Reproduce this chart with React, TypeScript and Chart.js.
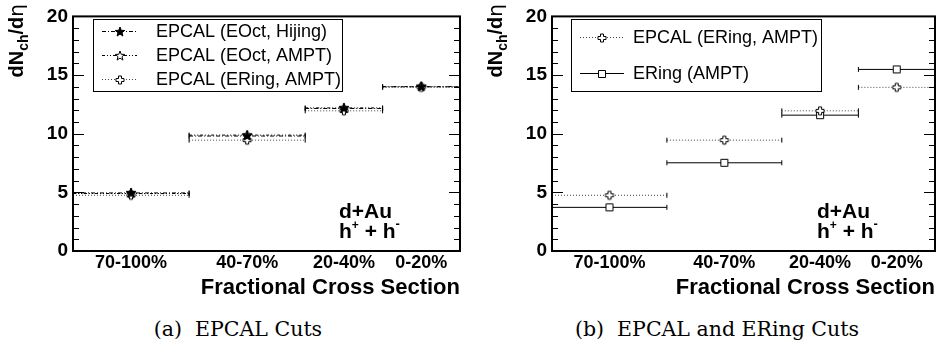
import React, { useEffect, useRef } from 'react';
import { Chart, registerables } from 'chart.js';

Chart.register(...registerables);

// ---------------- data ----------------
const binLabels = ['70-100%', '40-70%', '20-40%', '0-20%'];
const binLow = [70, 40, 20, 0];
const binHigh = [100, 70, 40, 20];
const binCenter = [85, 55, 30, 10];

const epcalEOctHijing = [4.95, 9.8, 12.15, 14.0];
const epcalEOctAmpt = [4.9, 9.88, 12.2, 14.02];
const epcalERingAmpt = [4.75, 9.45, 11.95, 13.95];
const eRingAmpt = [3.72, 7.52, 11.58, 15.48];

const yMin = 0;
const yMax = 20;
const yMajorStep = 5;
const yMinorStep = 1;

const xTitle = 'Fractional Cross Section';
const captionA = '(a)\u00a0\u00a0EPCAL Cuts';
const captionB = '(b)\u00a0\u00a0EPCAL and ERing Cuts';

const SANS = "'Liberation Sans', Arial, Helvetica, sans-serif";

type MarkerKind = 'starFilled' | 'starOpen' | 'crossOpen' | 'squareOpen';
type SeriesDef = { label: string; values: number[]; dash: number[]; color: string; marker: MarkerKind };

const panelASeries: SeriesDef[] = [
  { label: 'EPCAL (EOct, Hijing)', values: epcalEOctHijing, dash: [4, 2, 1, 2], color: '#000', marker: 'starFilled' },
  { label: 'EPCAL (EOct, AMPT)', values: epcalEOctAmpt, dash: [3, 2, 1, 2, 1, 2], color: '#000', marker: 'starOpen' },
  { label: 'EPCAL (ERing, AMPT)', values: epcalERingAmpt, dash: [1, 2], color: '#444', marker: 'crossOpen' },
];
const panelBSeries: SeriesDef[] = [
  { label: 'EPCAL (ERing, AMPT)', values: epcalERingAmpt, dash: [1, 2], color: '#444', marker: 'crossOpen' },
  { label: 'ERing (AMPT)', values: eRingAmpt, dash: [], color: '#000', marker: 'squareOpen' },
];

// ---------------- markers ----------------
function makeMarker(kind: MarkerKind): HTMLCanvasElement {
  const s = 14;
  const c = document.createElement('canvas');
  c.width = s;
  c.height = s;
  const ctx = c.getContext('2d')!;
  ctx.translate(s / 2, s / 2);
  ctx.lineWidth = 1;
  ctx.strokeStyle = '#000';
  ctx.beginPath();
  if (kind === 'starFilled' || kind === 'starOpen') {
    const R = 5;
    const r = 2.1;
    for (let i = 0; i < 10; i++) {
      const ang = -Math.PI / 2 + (i * Math.PI) / 5;
      const rad = i % 2 === 0 ? R : r;
      const px = Math.cos(ang) * rad;
      const py = Math.sin(ang) * rad;
      if (i === 0) ctx.moveTo(px, py);
      else ctx.lineTo(px, py);
    }
    ctx.closePath();
    ctx.fillStyle = kind === 'starFilled' ? '#000' : '#fff';
    ctx.fill();
    ctx.stroke();
  } else if (kind === 'crossOpen') {
    const a = 1.5;
    const e = 4;
    const pts = [
      [-a, -e], [a, -e], [a, -a], [e, -a], [e, a], [a, a],
      [a, e], [-a, e], [-a, a], [-e, a], [-e, -a], [-a, -a],
    ];
    pts.forEach(([px, py], i) => (i === 0 ? ctx.moveTo(px, py) : ctx.lineTo(px, py)));
    ctx.closePath();
    ctx.fillStyle = '#fff';
    ctx.fill();
    ctx.stroke();
  } else {
    ctx.rect(-3.5, -3.5, 7, 7);
    ctx.fillStyle = '#fff';
    ctx.fill();
    ctx.stroke();
  }
  return c;
}

function errorBarPoints(values: number[]) {
  const pts: { x: number; y: number | null }[] = [];
  values.forEach((v, i) => {
    pts.push({ x: binHigh[i], y: v });
    pts.push({ x: binCenter[i], y: v });
    pts.push({ x: binLow[i], y: v });
    pts.push({ x: binLow[i], y: null });
  });
  return pts;
}

type PanelCfg = {
  series: SeriesDef[];
  frameLeft: number;
  padRight: number;
  legend: { x: number; y: number; w: number; h: number; lineX1: number; lineX2: number; markerX: number; textX: number };
  textFromRight: number;
};

function buildChart(canvas: HTMLCanvasElement, cfg: PanelCfg): Chart {
  const markers = cfg.series.map((s) => makeMarker(s.marker));

  const datasets = cfg.series.map((s, si) => ({
    label: s.label,
    data: errorBarPoints(s.values),
    showLine: true,
    borderColor: s.color,
    borderWidth: 1,
    borderDash: s.dash,
    tension: 0,
    fill: false,
    spanGaps: false,
    pointStyle: (ctx: any) => (ctx.dataIndex % 4 === 1 ? markers[si] : 'line'),
    pointRotation: (ctx: any) => (ctx.dataIndex % 4 === 1 ? 0 : 90),
    pointRadius: (ctx: any) => {
      const k = ctx.dataIndex % 4;
      return k === 1 ? 5 : k === 3 ? 0 : 2.5;
    },
    pointBorderColor: '#000',
    pointBackgroundColor: '#000',
    pointBorderWidth: 1,
  }));

  const framePlugin = {
    id: 'rootFrame',
    afterDraw(chart: any) {
      const { ctx, chartArea: a, scales } = chart;
      const ys = scales.y;
      ctx.save();
      ctx.strokeStyle = '#000';
      ctx.lineWidth = 1;
      for (let v = yMin + yMinorStep; v < yMax; v += yMinorStep) {
        const py = Math.round(ys.getPixelForValue(v)) + 0.5;
        const len = v % yMajorStep === 0 ? 11 : 6;
        ctx.beginPath();
        ctx.moveTo(a.left, py);
        ctx.lineTo(a.left + len, py);
        ctx.moveTo(a.right, py);
        ctx.lineTo(a.right - len, py);
        ctx.stroke();
      }
      ctx.lineWidth = 2;
      ctx.strokeRect(a.left, a.top, a.right - a.left, a.bottom - a.top);

      // x axis title (right aligned)
      ctx.fillStyle = '#000';
      ctx.font = `bold 22px ${SANS}`;
      ctx.textAlign = 'right';
      ctx.textBaseline = 'alphabetic';
      ctx.fillText(xTitle, a.right, 294);

      // y axis title dN_ch/dη rotated
      const segs = [
        { t: 'dN', f: `bold 20px ${SANS}`, dy: 0 },
        { t: 'ch', f: `bold 14px ${SANS}`, dy: 5 },
        { t: '/d', f: `bold 20px ${SANS}`, dy: 0 },
        { t: 'η', f: `20px 'DejaVu Sans', ${SANS}`, dy: 0 },
      ];
      let total = 0;
      const widths = segs.map((s) => {
        ctx.font = s.f;
        const w = ctx.measureText(s.t).width;
        total += w;
        return w;
      });
      ctx.save();
      ctx.translate(a.left - 50, 4 + total);
      ctx.rotate(-Math.PI / 2);
      ctx.textAlign = 'left';
      let cx = 0;
      segs.forEach((s, i) => {
        ctx.font = s.f;
        ctx.fillText(s.t, cx, s.dy);
        cx += widths[i];
      });
      ctx.restore();

      // d+Au / h+ + h- annotation
      const tx = a.right - cfg.textFromRight;
      ctx.textAlign = 'left';
      ctx.font = `bold 21px ${SANS}`;
      ctx.fillText('d+Au', tx, a.bottom - 33);
      const line2 = [
        { t: 'h', f: `bold 21px ${SANS}`, dy: 0 },
        { t: '+', f: `bold 12px ${SANS}`, dy: -9 },
        { t: ' + h', f: `bold 21px ${SANS}`, dy: 0 },
        { t: '-', f: `bold 13px ${SANS}`, dy: -10 },
      ];
      let lx = tx;
      line2.forEach((s) => {
        ctx.font = s.f;
        ctx.fillText(s.t, lx, a.bottom - 13 + s.dy);
        lx += ctx.measureText(s.t).width;
      });

      // legend
      const L = cfg.legend;
      ctx.fillStyle = '#fff';
      ctx.fillRect(L.x, L.y, L.w, L.h);
      ctx.strokeStyle = '#000';
      ctx.lineWidth = 1;
      ctx.strokeRect(L.x + 0.5, L.y + 0.5, L.w, L.h);
      const n = cfg.series.length;
      cfg.series.forEach((s, i) => {
        const cy = Math.round(L.y + ((i + 0.5) * L.h) / n) + 0.5;
        ctx.strokeStyle = s.color;
        ctx.setLineDash(s.dash);
        ctx.beginPath();
        ctx.moveTo(L.lineX1, cy);
        ctx.lineTo(L.lineX2, cy);
        ctx.stroke();
        ctx.setLineDash([]);
        const m = markers[i];
        ctx.drawImage(m, Math.round(L.markerX - m.width / 2), Math.round(cy - m.height / 2));
        ctx.fillStyle = '#000';
        ctx.font = `18px ${SANS}`;
        ctx.textBaseline = 'middle';
        ctx.textAlign = 'left';
        ctx.fillText(s.label, L.textX, cy + 1);
      });
      ctx.restore();
    },
  };

  return new Chart(canvas, {
    type: 'scatter',
    data: { datasets: datasets as any },
    options: {
      animation: false,
      responsive: false,
      maintainAspectRatio: false,
      devicePixelRatio: 1,
      layout: { padding: { left: 0, right: cfg.padRight, top: 7, bottom: 10 } },
      plugins: { legend: { display: false }, tooltip: { enabled: false }, title: { display: false } },
      scales: {
        x: {
          type: 'linear',
          reverse: true,
          min: 0,
          max: 100,
          grid: { display: false, drawTicks: false },
          border: { display: false },
          afterFit: (scale: any) => {
            scale.height = 49;
          },
          afterBuildTicks: (scale: any) => {
            scale.ticks = binCenter.map((v) => ({ value: v }));
          },
          ticks: {
            autoSkip: false,
            maxRotation: 0,
            minRotation: 0,
            padding: 1,
            color: '#000',
            font: { family: SANS, size: 18, weight: 'bold' },
            callback: (value: any) => {
              const i = binCenter.indexOf(Number(value));
              return i >= 0 ? binLabels[i] : '';
            },
          },
        },
        y: {
          type: 'linear',
          min: yMin,
          max: yMax,
          grid: { display: false, drawTicks: false },
          border: { display: false },
          afterFit: (scale: any) => {
            scale.width = cfg.frameLeft;
          },
          ticks: {
            stepSize: yMajorStep,
            padding: 5,
            color: '#000',
            font: { family: SANS, size: 19, weight: 'bold' },
          },
        },
      },
    },
    plugins: [framePlugin],
  } as any);
}

const captionStyle = (center: number): React.CSSProperties => ({
  position: 'absolute',
  left: center - 250,
  width: 500,
  top: 317,
  textAlign: 'center',
  fontFamily: "'DejaVu Serif', serif",
  fontSize: 20.5,
  lineHeight: '24px',
  color: '#000',
  whiteSpace: 'pre',
});

export default function App() {
  const refA = useRef<HTMLCanvasElement>(null);
  const refB = useRef<HTMLCanvasElement>(null);

  useEffect(() => {
    const a = buildChart(refA.current!, {
      series: panelASeries,
      frameLeft: 73,
      padRight: 10,
      legend: { x: 93, y: 19, w: 249, h: 72, lineX1: 102, lineX2: 137, markerX: 120, textX: 156 },
      textFromRight: 121,
    });
    const b = buildChart(refB.current!, {
      series: panelBSeries,
      frameLeft: 82,
      padRight: 5,
      legend: { x: 101, y: 19, w: 250, h: 72, lineX1: 110, lineX2: 154, markerX: 132, textX: 163 },
      textFromRight: 118,
    });
    return () => {
      a.destroy();
      b.destroy();
    };
  }, []);

  return (
    <div style={{ position: 'fixed', left: 0, top: 0, width: 940, height: 349, background: '#fff', overflow: 'hidden' }}>
      <canvas ref={refA} width={470} height={310} style={{ position: 'absolute', left: 0, top: 0 }} />
      <canvas ref={refB} width={470} height={310} style={{ position: 'absolute', left: 470, top: 0 }} />
      <div style={captionStyle(238)}>{captionA}</div>
      <div style={captionStyle(717)}>{captionB}</div>
    </div>
  );
}
